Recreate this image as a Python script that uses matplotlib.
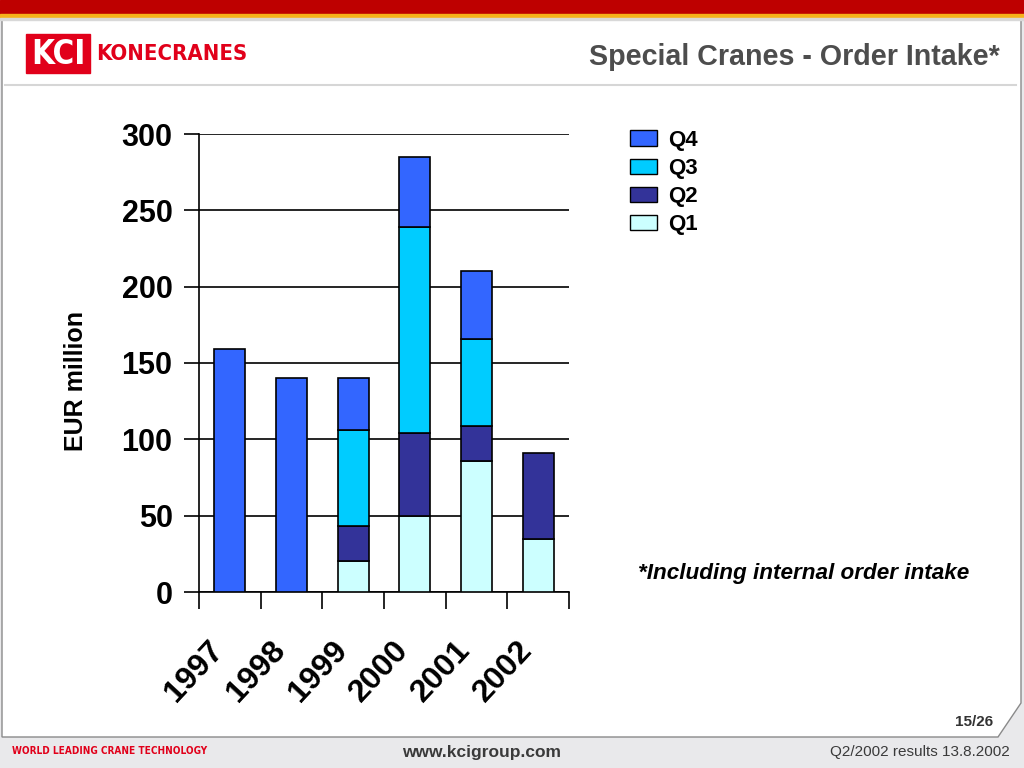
import matplotlib
matplotlib.use("Agg")
import matplotlib.pyplot as plt
from matplotlib.patches import Rectangle, Polygon, Patch
from matplotlib.lines import Line2D
from matplotlib import font_manager

# ---- data ----
years = ["1997", "1998", "1999", "2000", "2001", "2002"]
q1 = [None, None, 20, 50, 86, 35]
q2 = [None, None, 23, 54, 23, 56]
q3 = [None, None, 63, 135, 57, None]
q4 = [159, 140, 34, 46, 44, None]
series_names = ["Q1", "Q2", "Q3", "Q4"]
series_colors = ["#CCFFFF", "#333399", "#00CCFF", "#3366FF"]
yticks = [0, 50, 100, 150, 200, 250, 300]

W, H = 1024, 768
fig = plt.figure(figsize=(W / 100, H / 100), dpi=100)
fig.patch.set_facecolor("white")

sans = ["Liberation Sans", "DejaVu Sans"]

# pick a condensed face if one is installed
cond_kw = {"family": sans}
try:
    names = {f.name for f in font_manager.fontManager.ttflist}
    if "Liberation Sans Narrow" in names:
        cond_kw = {"family": ["Liberation Sans Narrow"]}
    else:
        fp = font_manager.FontProperties(family="DejaVu Sans", stretch="condensed", weight="bold")
        fn = font_manager.findfont(fp, fallback_to_default=False)
        if "Condensed" in fn:
            cond_kw = {"family": ["DejaVu Sans"], "fontstretch": "condensed"}
except Exception:
    pass

def px(x, y):
    return x / W, 1 - y / H

bg = fig.add_axes([0, 0, 1, 1], zorder=-10)
bg.set_xlim(0, W)
bg.set_ylim(H, 0)
bg.axis("off")
bg.add_patch(Rectangle((0, 0), W, H, color="#E9E9EB", zorder=0))
bg.add_patch(Polygon([(2, 16), (1021, 16), (1021, 703), (998, 737), (2, 737)],
                     closed=True, facecolor="white", edgecolor="#8A8A8A", lw=1.0, zorder=1))
bg.add_patch(Rectangle((0, 0), W, 14, color="#BE0000", zorder=3))
bg.add_patch(Rectangle((0, 14), W, 4, color="#F5B21B", zorder=3))
bg.add_patch(Rectangle((0, 18), W, 2, color="#D8D8D8", zorder=3))
bg.add_line(Line2D([5, 1016], [85, 85], color="#D6D6D6", lw=1.5, zorder=3))
bg.add_patch(Rectangle((26, 34), 64, 39, color="#E1001A", zorder=3))

renderer = fig.canvas.get_renderer()

def fit_text(x, y, s, target_w, size, **kw):
    t = bg.text(x, y, s, fontsize=size, **kw)
    w = t.get_window_extent(renderer=renderer).width
    if w > 0:
        t.set_fontsize(size * target_w / w)
    return t

fit_text(58, 54, "KCI", 54, 22, color="white", fontweight="bold",
         ha="center", va="center", zorder=4, **cond_kw)
fit_text(96, 54, "KONECRANES", 151, 25, color="#E1001A", fontweight="bold",
         ha="left", va="center", zorder=4, **cond_kw)

bg.text(1000, 57, "Special Cranes - Order Intake*", color="#4D4D4D", fontsize=20.6,
        fontweight="bold", family=sans, ha="right", va="center", zorder=4)
bg.text(638, 574, "*Including internal order intake", color="black", fontsize=16.2,
        fontweight="bold", fontstyle="italic", family=sans, ha="left", va="center", zorder=4)
bg.text(993, 722, "15/26", color="#333333", fontsize=11, fontweight="bold",
        family=sans, ha="right", va="center", zorder=4)
fit_text(12, 751, "WORLD LEADING CRANE TECHNOLOGY", 196, 11.5, color="#E1001A",
         fontweight="bold", ha="left", va="center", zorder=4, **cond_kw)
bg.text(482, 753, "www.kcigroup.com", color="#3A3A3A", fontsize=12.5,
        fontweight="bold", family=sans, ha="center", va="center", zorder=4)
bg.text(1010, 752, "Q2/2002 results 13.8.2002", color="#3A3A3A", fontsize=11,
        family=sans, ha="right", va="center", zorder=4)

# ---- chart ----
ax = fig.add_axes([199 / W, 1 - 592 / H, (569 - 199) / W, (592 - 134) / H])
ax.set_facecolor("none")
x = list(range(len(years)))
bottoms = [0.0] * len(years)
handles = {}
for name, vals, col in zip(series_names, [q1, q2, q3, q4], series_colors):
    xs, hs, bs = [], [], []
    for i, v in enumerate(vals):
        if v is None:
            continue
        xs.append(x[i]); hs.append(v); bs.append(bottoms[i])
        bottoms[i] += v
    ax.bar(xs, hs, bottom=bs, width=0.5, color=col, edgecolor="black",
           linewidth=1.2, zorder=3)
    handles[name] = Patch(facecolor=col, edgecolor="black", linewidth=1.0)

ax.set_xlim(-0.5, len(years) - 0.5)
ax.set_ylim(0, 300)
ax.set_yticks(yticks)
ax.set_yticklabels([str(t) for t in yticks], fontsize=22, fontweight="bold", family=sans)
ax.yaxis.grid(True, color="black", linewidth=1.2, zorder=1)
ax.set_axisbelow(True)
ax.tick_params(axis="y", length=11, width=1.2, pad=8)

ax.set_xticks([i - 0.5 for i in range(len(years) + 1)])
ax.set_xticklabels([])
ax.set_xticks(x, minor=True)
ax.set_xticklabels(years, minor=True, fontsize=23, fontweight="bold", family=sans,
                   rotation=47, ha="right", va="bottom", rotation_mode="anchor")
ax.tick_params(axis="x", which="major", length=12, width=1.2, direction="out")
ax.tick_params(axis="x", which="minor", length=0, pad=46)

for s in ["top", "right"]:
    ax.spines[s].set_visible(False)
for s in ["left", "bottom"]:
    ax.spines[s].set_linewidth(1.2)

ax.set_ylabel("EUR million", fontsize=18, fontweight="bold", family=sans)
ax.yaxis.set_label_coords(-111 / 370, 0.46)

leg_order = ["Q4", "Q3", "Q2", "Q1"]
leg = fig.legend([handles[n] for n in leg_order], leg_order,
                 loc="upper left", bbox_to_anchor=px(621, 121), frameon=False,
                 prop={"size": 16, "weight": "bold", "family": sans},
                 handlelength=1.2, handleheight=0.68, handletextpad=0.5,
                 labelspacing=0.32, borderaxespad=0)

fig.savefig("out.png", dpi=100)
